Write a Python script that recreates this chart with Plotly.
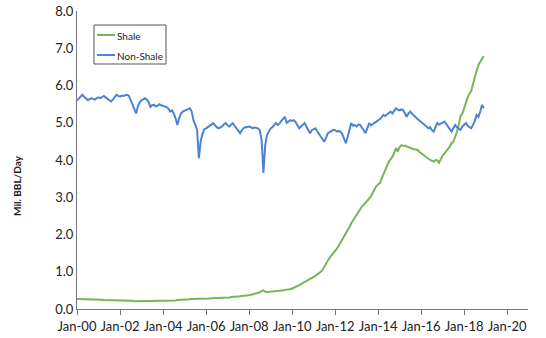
import pandas as pd
import plotly.graph_objects as go

START_MONTH = "2000-01-01"

shale = [
    0.27, 0.27, 0.27, 0.26, 0.26, 0.26, 0.26, 0.26, 0.26, 0.25, 0.25, 0.25,
    0.25, 0.25, 0.25, 0.24, 0.24, 0.24, 0.24, 0.23, 0.23, 0.23, 0.23, 0.23,
    0.23, 0.23, 0.23, 0.22, 0.22, 0.22, 0.22, 0.22, 0.21, 0.21, 0.22, 0.22,
    0.22, 0.22, 0.22, 0.22, 0.22, 0.22, 0.22, 0.22, 0.22, 0.22, 0.22, 0.22,
    0.22, 0.22, 0.22, 0.23, 0.23, 0.23, 0.23, 0.23, 0.24, 0.24, 0.24, 0.24,
    0.25, 0.25, 0.26, 0.26, 0.27, 0.27, 0.27, 0.27, 0.26, 0.27, 0.27, 0.28,
    0.28, 0.28, 0.28, 0.29, 0.29, 0.29, 0.29, 0.30, 0.30, 0.30, 0.30, 0.31,
    0.31, 0.31, 0.32, 0.32, 0.33, 0.33, 0.34, 0.34, 0.35, 0.35, 0.36, 0.36,
    0.37, 0.38, 0.39, 0.40, 0.41, 0.43, 0.45, 0.48, 0.50, 0.47, 0.45, 0.46,
    0.46, 0.47, 0.47, 0.48, 0.48, 0.49, 0.49, 0.50, 0.51, 0.52, 0.52, 0.53,
    0.55, 0.57, 0.59, 0.62, 0.64, 0.67, 0.70, 0.72, 0.75, 0.78, 0.80, 0.83,
    0.86, 0.89, 0.92, 0.96, 1.00, 1.05, 1.12, 1.22, 1.30, 1.38, 1.44, 1.50,
    1.55, 1.62, 1.70, 1.78, 1.86, 1.95, 2.05, 2.12, 2.20, 2.30, 2.38, 2.45,
    2.52, 2.60, 2.68, 2.75, 2.80, 2.85, 2.92, 2.97, 3.02, 3.12, 3.22, 3.30,
    3.34, 3.38, 3.50, 3.62, 3.75, 3.87, 3.95, 4.02, 4.09, 4.20, 4.32, 4.23,
    4.35, 4.40, 4.38, 4.38, 4.36, 4.33, 4.32, 4.30, 4.29, 4.28, 4.27, 4.22,
    4.18, 4.14, 4.10, 4.06, 4.03, 4.00, 3.98, 3.96, 4.00, 3.99, 3.93, 4.05,
    4.12, 4.18, 4.25, 4.30, 4.36, 4.45, 4.49, 4.60, 4.75, 4.95, 5.18, 5.24,
    5.40, 5.55, 5.68, 5.78, 5.85, 6.05, 6.25, 6.40, 6.55, 6.65, 6.72, 6.79,
]

non_shale = [
    5.60, 5.65, 5.72, 5.75, 5.70, 5.66, 5.61, 5.63, 5.66, 5.64, 5.62, 5.66,
    5.68, 5.66, 5.70, 5.72, 5.68, 5.64, 5.60, 5.57, 5.62, 5.70, 5.75, 5.72,
    5.70, 5.73, 5.72, 5.74, 5.75, 5.72, 5.61, 5.52, 5.39, 5.25, 5.45, 5.55,
    5.60, 5.64, 5.66, 5.62, 5.55, 5.43, 5.47, 5.48, 5.44, 5.46, 5.50, 5.47,
    5.46, 5.45, 5.42, 5.38, 5.30, 5.33, 5.25, 5.12, 4.94, 5.12, 5.25, 5.30,
    5.32, 5.35, 5.38, 5.39, 5.30, 5.07, 4.95, 4.81, 4.05, 4.50, 4.70, 4.82,
    4.85, 4.88, 4.90, 4.95, 4.99, 4.93, 4.88, 4.85, 4.87, 4.90, 4.96, 4.99,
    4.93, 4.90, 4.95, 4.99, 4.92, 4.85, 4.78, 4.72, 4.80, 4.86, 4.88, 4.90,
    4.90, 4.88, 4.85, 4.87, 4.86, 4.85, 4.80, 4.54, 3.65, 4.40, 4.67, 4.78,
    4.85, 4.88, 4.94, 4.99, 4.94, 4.98, 5.05, 5.10, 5.16, 5.00, 5.04, 5.07,
    5.05, 5.07, 5.02, 4.95, 4.85, 4.90, 4.96, 4.99, 4.90, 4.80, 4.72, 4.80,
    4.83, 4.85, 4.78, 4.70, 4.62, 4.55, 4.49, 4.60, 4.72, 4.75, 4.78, 4.81,
    4.80, 4.76, 4.78, 4.76, 4.70, 4.58, 4.45, 4.62, 4.85, 4.99, 4.92, 4.94,
    4.90, 4.95, 4.94, 4.88, 4.80, 4.72, 4.85, 4.99, 4.93, 4.96, 4.99, 5.02,
    5.05, 5.10, 5.15, 5.21, 5.18, 5.22, 5.28, 5.30, 5.25, 5.32, 5.39, 5.35,
    5.33, 5.36, 5.34, 5.25, 5.16, 5.25, 5.30, 5.24, 5.18, 5.15, 5.10, 5.07,
    5.02, 4.98, 4.95, 4.90, 4.85, 4.88, 4.80, 4.76, 4.88, 4.99, 4.95, 4.98,
    5.00, 5.03, 4.97, 4.90, 4.85, 4.76, 4.85, 4.94, 4.88, 4.84, 4.81, 4.90,
    4.95, 4.99, 4.92, 4.88, 4.85, 4.95, 5.05, 5.21, 5.16, 5.30, 5.48, 5.39,
]

series_names = ["Shale", "Non-Shale"]

months = pd.date_range(START_MONTH, periods=len(shale), freq="MS")

GREEN = "#78B653"
BLUE = "#4A84D2"
AXIS = "#777777"
FONT = "Lato, 'Open Sans', sans-serif"

W, H = 546, 338
ML, MR, MT, MB = 77, 18, 11, 29
PW, PH = W - ML - MR, H - MT - MB


def px(xp):
    return (xp - ML) / PW


def py(yp):
    return (H - MB - yp) / PH


fig = go.Figure()
fig.add_trace(go.Scatter(x=months, y=shale, mode="lines", name=series_names[0],
                         line=dict(color=GREEN, width=2), showlegend=False))
fig.add_trace(go.Scatter(x=months, y=non_shale, mode="lines", name=series_names[1],
                         line=dict(color=BLUE, width=2), showlegend=False))

# legend box drawn by hand to match the compact reference legend
shapes = [
    dict(type="rect", xref="paper", yref="paper",
         x0=px(94), x1=px(166), y0=py(64), y1=py(25),
         line=dict(color="#555555", width=1), fillcolor="white", layer="above"),
]
annotations = []
for name, color, yy in [(series_names[0], GREEN, 35), (series_names[1], BLUE, 55)]:
    shapes.append(dict(type="line", xref="paper", yref="paper",
                       x0=px(97), x1=px(115), y0=py(yy), y1=py(yy),
                       line=dict(color=color, width=2), layer="above"))
    annotations.append(dict(text=name, xref="paper", yref="paper",
                            x=px(115), y=py(yy + 0.5), xanchor="left", yanchor="middle",
                            showarrow=False, font=dict(size=10, color="#222222")))

annotations.append(dict(
    text="<b>Mil. BBL/Day</b>", textangle=-90,
    xref="paper", yref="paper", x=px(17), y=py(186),
    xanchor="center", yanchor="middle", showarrow=False,
    font=dict(size=10, color="#222222"),
))

fig.update_layout(
    width=W, height=H,
    margin=dict(l=ML, r=MR, t=MT, b=MB, autoexpand=False),
    plot_bgcolor="white", paper_bgcolor="white",
    font=dict(family=FONT, size=13, color="#222222"),
    showlegend=False,
    xaxis=dict(
        type="date", automargin=False,
        range=["2000-01-01", "2020-12-20"],
        tick0="2000-01-01", dtick="M24", tickformat="%b-%y",
        showgrid=False, zeroline=False,
        showline=True, linecolor=AXIS, linewidth=1,
        ticks="outside", ticklen=5, tickcolor=AXIS,
        tickfont=dict(size=13),
    ),
    yaxis=dict(
        automargin=False,
        range=[0, 8], dtick=1, tickformat=".1f",
        showgrid=False, zeroline=False,
        showline=True, linecolor=AXIS, linewidth=1,
        ticks="", tickfont=dict(size=13),
    ),
    shapes=shapes,
    annotations=annotations,
)

fig.write_html("out.html")
